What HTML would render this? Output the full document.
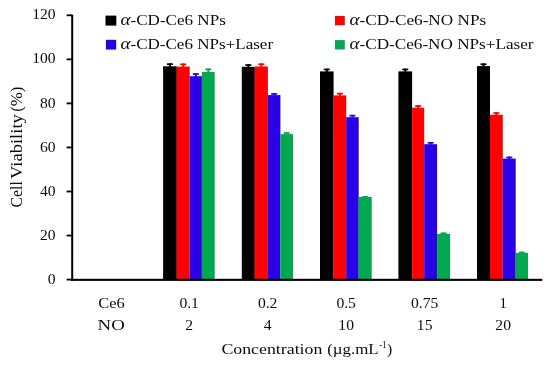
<!DOCTYPE html>
<html><head><meta charset="utf-8"><title>chart</title>
<style>
html,body{margin:0;padding:0;background:#fff;}
body{width:550px;height:366px;overflow:hidden;}
svg{display:block;}
svg{will-change:transform;transform:translateZ(0);opacity:0.9999;}
text{font-family:"Liberation Serif",serif;fill:#0c0c0c;}
</style></head><body>
<svg width="550" height="366" viewBox="0 0 550 366">
<rect width="550" height="366" fill="#ffffff"/>

<rect x="163.10" y="66.30" width="13.70" height="213.50" fill="#000000"/>
<rect x="168.95" y="63.30" width="2" height="3.50" fill="#000000"/>
<rect x="166.95" y="63.30" width="6" height="1.7" fill="#000000"/>
<rect x="176.80" y="66.60" width="12.90" height="213.20" fill="#ff0000"/>
<rect x="182.25" y="63.50" width="2" height="3.60" fill="#ff0000"/>
<rect x="180.25" y="63.50" width="6" height="1.7" fill="#ff0000"/>
<rect x="189.70" y="76.20" width="12.20" height="203.60" fill="#2a00e6"/>
<rect x="194.80" y="73.20" width="2" height="3.50" fill="#2a00e6"/>
<rect x="192.80" y="73.20" width="6" height="1.7" fill="#2a00e6"/>
<rect x="201.90" y="72.00" width="12.80" height="207.80" fill="#00a850"/>
<rect x="207.30" y="68.50" width="2" height="4.00" fill="#00a850"/>
<rect x="205.30" y="68.50" width="6" height="1.7" fill="#00a850"/>
<rect x="241.80" y="66.80" width="13.00" height="213.00" fill="#000000"/>
<rect x="247.30" y="64.20" width="2" height="3.10" fill="#000000"/>
<rect x="245.30" y="64.20" width="6" height="1.7" fill="#000000"/>
<rect x="254.80" y="66.50" width="13.10" height="213.30" fill="#ff0000"/>
<rect x="260.35" y="63.40" width="2" height="3.60" fill="#ff0000"/>
<rect x="258.35" y="63.40" width="6" height="1.7" fill="#ff0000"/>
<rect x="267.90" y="95.10" width="12.50" height="184.70" fill="#2a00e6"/>
<rect x="273.15" y="93.10" width="2" height="2.50" fill="#2a00e6"/>
<rect x="271.15" y="93.10" width="6" height="1.7" fill="#2a00e6"/>
<rect x="280.40" y="134.10" width="12.60" height="145.70" fill="#00a850"/>
<rect x="285.70" y="132.20" width="2" height="2.40" fill="#00a850"/>
<rect x="283.70" y="132.20" width="6" height="1.7" fill="#00a850"/>
<rect x="320.00" y="71.40" width="13.60" height="208.40" fill="#000000"/>
<rect x="325.80" y="68.60" width="2" height="3.30" fill="#000000"/>
<rect x="323.80" y="68.60" width="6" height="1.7" fill="#000000"/>
<rect x="333.60" y="95.40" width="12.60" height="184.40" fill="#ff0000"/>
<rect x="338.90" y="92.80" width="2" height="3.10" fill="#ff0000"/>
<rect x="336.90" y="92.80" width="6" height="1.7" fill="#ff0000"/>
<rect x="346.20" y="117.20" width="12.50" height="162.60" fill="#2a00e6"/>
<rect x="351.45" y="114.80" width="2" height="2.90" fill="#2a00e6"/>
<rect x="349.45" y="114.80" width="6" height="1.7" fill="#2a00e6"/>
<rect x="358.70" y="196.90" width="13.00" height="82.90" fill="#00a850"/>
<rect x="364.20" y="196.10" width="2" height="1.30" fill="#00a850"/>
<rect x="362.20" y="196.10" width="6" height="1.7" fill="#00a850"/>
<rect x="398.40" y="71.40" width="13.70" height="208.40" fill="#000000"/>
<rect x="404.25" y="68.60" width="2" height="3.30" fill="#000000"/>
<rect x="402.25" y="68.60" width="6" height="1.7" fill="#000000"/>
<rect x="412.10" y="107.70" width="12.10" height="172.10" fill="#ff0000"/>
<rect x="417.15" y="105.20" width="2" height="3.00" fill="#ff0000"/>
<rect x="415.15" y="105.20" width="6" height="1.7" fill="#ff0000"/>
<rect x="424.20" y="144.20" width="12.90" height="135.60" fill="#2a00e6"/>
<rect x="429.65" y="142.00" width="2" height="2.70" fill="#2a00e6"/>
<rect x="427.65" y="142.00" width="6" height="1.7" fill="#2a00e6"/>
<rect x="437.10" y="233.80" width="13.00" height="46.00" fill="#00a850"/>
<rect x="442.60" y="232.50" width="2" height="1.80" fill="#00a850"/>
<rect x="440.60" y="232.50" width="6" height="1.7" fill="#00a850"/>
<rect x="477.00" y="66.10" width="13.00" height="213.70" fill="#000000"/>
<rect x="482.50" y="63.40" width="2" height="3.20" fill="#000000"/>
<rect x="480.50" y="63.40" width="6" height="1.7" fill="#000000"/>
<rect x="490.00" y="114.80" width="12.80" height="165.00" fill="#ff0000"/>
<rect x="495.40" y="112.20" width="2" height="3.10" fill="#ff0000"/>
<rect x="493.40" y="112.20" width="6" height="1.7" fill="#ff0000"/>
<rect x="502.80" y="158.60" width="12.90" height="121.20" fill="#2a00e6"/>
<rect x="508.25" y="156.60" width="2" height="2.50" fill="#2a00e6"/>
<rect x="506.25" y="156.60" width="6" height="1.7" fill="#2a00e6"/>
<rect x="515.70" y="253.00" width="12.30" height="26.80" fill="#00a850"/>
<rect x="520.85" y="251.70" width="2" height="1.80" fill="#00a850"/>
<rect x="518.85" y="251.70" width="6" height="1.7" fill="#00a850"/>
<rect x="71.2" y="14.7" width="2" height="266.30" fill="#000"/>
<rect x="71.2" y="278.8" width="471.10" height="2.1" fill="#000"/>
<rect x="66.6" y="278.70" width="5.6" height="1.8" fill="#000"/>
<text x="55.6" y="283.70" font-size="15.6" text-anchor="end">0</text>
<rect x="66.6" y="234.65" width="5.6" height="1.8" fill="#000"/>
<text x="55.6" y="239.65" font-size="15.6" text-anchor="end">20</text>
<rect x="66.6" y="190.60" width="5.6" height="1.8" fill="#000"/>
<text x="55.6" y="195.60" font-size="15.6" text-anchor="end">40</text>
<rect x="66.6" y="146.55" width="5.6" height="1.8" fill="#000"/>
<text x="55.6" y="151.55" font-size="15.6" text-anchor="end">60</text>
<rect x="66.6" y="102.50" width="5.6" height="1.8" fill="#000"/>
<text x="55.6" y="107.50" font-size="15.6" text-anchor="end">80</text>
<rect x="66.6" y="58.45" width="5.6" height="1.8" fill="#000"/>
<text x="55.6" y="63.45" font-size="15.6" text-anchor="end">100</text>
<rect x="66.6" y="14.40" width="5.6" height="1.8" fill="#000"/>
<text x="55.6" y="19.40" font-size="15.6" text-anchor="end">120</text>
<rect x="105.5" y="15.6" width="10.8" height="10" fill="#000"/>
<rect x="105.9" y="39.8" width="10.3" height="9.8" fill="#2a00e6"/>
<rect x="335" y="15.9" width="9.8" height="9.4" fill="#ff0000"/>
<rect x="335" y="40.1" width="9.8" height="9.4" fill="#00a850"/>
<text x="120.5" y="24.6" font-size="15.6" textLength="105.3" lengthAdjust="spacingAndGlyphs"><tspan font-style="italic" font-size="17.4">α</tspan>-CD-Ce6 NPs</text>
<text x="120.5" y="49.1" font-size="15.6" textLength="152.6" lengthAdjust="spacingAndGlyphs"><tspan font-style="italic" font-size="17.4">α</tspan>-CD-Ce6 NPs+Laser</text>
<text x="349.5" y="24.6" font-size="15.6" textLength="136.7" lengthAdjust="spacingAndGlyphs"><tspan font-style="italic" font-size="17.4">α</tspan>-CD-Ce6-NO NPs</text>
<text x="349.5" y="49.1" font-size="15.6" textLength="184.0" lengthAdjust="spacingAndGlyphs"><tspan font-style="italic" font-size="17.4">α</tspan>-CD-Ce6-NO NPs+Laser</text>
<text x="98.2" y="307.7" font-size="15.6" textLength="26.5" lengthAdjust="spacingAndGlyphs">Ce6</text>
<text x="97.6" y="329.5" font-size="15.6" textLength="27.2" lengthAdjust="spacingAndGlyphs">NO</text>
<text x="189.15" y="307.7" font-size="15.6" text-anchor="middle">0.1</text>
<text x="189.15" y="329.5" font-size="15.6" text-anchor="middle">2</text>
<text x="267.65" y="307.7" font-size="15.6" text-anchor="middle">0.2</text>
<text x="267.65" y="329.5" font-size="15.6" text-anchor="middle">4</text>
<text x="346.15" y="307.7" font-size="15.6" text-anchor="middle">0.5</text>
<text x="346.15" y="329.5" font-size="15.6" text-anchor="middle">10</text>
<text x="424.65" y="307.7" font-size="15.6" text-anchor="middle">0.75</text>
<text x="424.65" y="329.5" font-size="15.6" text-anchor="middle">15</text>
<text x="503.15" y="307.7" font-size="15.6" text-anchor="middle">1</text>
<text x="503.15" y="329.5" font-size="15.6" text-anchor="middle">20</text>
<text x="221.4" y="353.6" font-size="15.6" textLength="101" lengthAdjust="spacingAndGlyphs">Concentration</text>
<text x="327.2" y="353.6" font-size="15.6" textLength="51.4" lengthAdjust="spacingAndGlyphs">(µg.mL</text>
<text x="379.3" y="348.4" font-size="9.6" textLength="7.2" lengthAdjust="spacingAndGlyphs">-1</text>
<text x="386.9" y="353.6" font-size="15.6">)</text>
<text transform="translate(21.8,207.4) rotate(-90)" font-size="16" textLength="26.2" lengthAdjust="spacingAndGlyphs">Cell</text>
<text transform="translate(21.8,179.0) rotate(-90)" font-size="16" textLength="64.8" lengthAdjust="spacingAndGlyphs">Viability</text>
<text transform="translate(21.8,111.8) rotate(-90)" font-size="16" textLength="25.2" lengthAdjust="spacingAndGlyphs">(%)</text>
</svg></body></html>
